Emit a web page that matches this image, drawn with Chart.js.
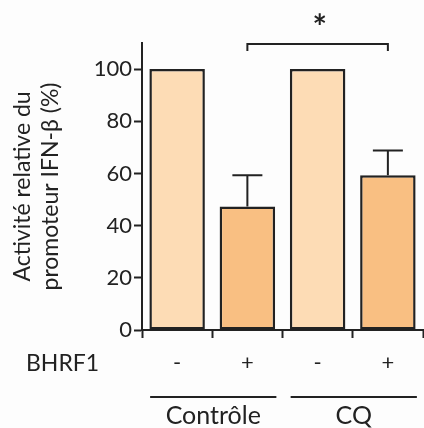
<!DOCTYPE html>
<html>
<head>
<meta charset="utf-8">
<script src="https://cdn.jsdelivr.net/npm/chart.js@4"></script>
<style>
  html, body { margin: 0; padding: 0; background: #fdfdfd; }
  #wrap { width: 424px; height: 428px; position: relative; }
</style>
</head>
<body>
<div id="wrap"><canvas id="activityChart"></canvas></div>
<script>
// values
var bhrf1Labels = ['-', '+', '-', '+'];
var activityMeans = [100, 47.3, 100, 59.3];
var errorTops = [null, 59.3, null, 68.8];
var groupNames = ['Contrôle', 'CQ'];
var barColors = ['#fddcb5', '#f9bf82', '#fddcb5', '#f9bf82'];
var yTicks = [0, 20, 40, 60, 80, 100];

var ink = '#222222';
var fontFamily = 'Lato, "Open Sans", sans-serif';

// error bars, bracket with star, BHRF1 row and group underlines
var annotations = {
    id: 'annotations',
    afterDatasetsDraw: function (chart) {
        var ctx = chart.ctx;
        var x = chart.scales.x;
        var y = chart.scales.y;
        ctx.save();
        ctx.strokeStyle = ink;
        ctx.lineWidth = 2;

        errorTops.forEach(function (top, i) {
            if (top === null) return;
            var cx = x.getPixelForValue(i);
            var y0 = y.getPixelForValue(activityMeans[i]);
            var y1 = y.getPixelForValue(top);
            ctx.beginPath();
            ctx.moveTo(cx, y0);
            ctx.lineTo(cx, y1);
            ctx.moveTo(cx - 15, y1);
            ctx.lineTo(cx + 15, y1);
            ctx.stroke();
        });

        // significance bracket between the two "+" bars
        var bx1 = x.getPixelForValue(1);
        var bx2 = x.getPixelForValue(3);
        var by = y.getPixelForValue(110) + 1;
        ctx.beginPath();
        ctx.moveTo(bx1, by + 7);
        ctx.lineTo(bx1, by);
        ctx.lineTo(bx2, by);
        ctx.lineTo(bx2, by + 7);
        ctx.stroke();

        ctx.fillStyle = ink;
        ctx.font = 'bold 34px ' + fontFamily;
        ctx.textAlign = 'center';
        ctx.textBaseline = 'middle';
        ctx.fillText('*', (bx1 + bx2) / 2 + 2, 28);

        // row label
        ctx.font = '23px ' + fontFamily;
        ctx.fillStyle = '#222';
        ctx.textAlign = 'left';
        ctx.fillText('BHRF1', 26, 364);

        // group underlines and names
        ctx.font = '25px ' + fontFamily;
        groupNames.forEach(function (name, g) {
            var left = x.getPixelForValue(g * 2) - 27;
            var right = x.getPixelForValue(g * 2 + 1) + 29;
            ctx.beginPath();
            ctx.moveTo(left, 397);
            ctx.lineTo(right, 397);
            ctx.stroke();
            ctx.textAlign = 'center';
            ctx.fillText(name, (left + right) / 2, 416);
        });
        ctx.restore();
    }
};

new Chart(document.getElementById('activityChart'), {
    type: 'bar',
    data: {
        labels: bhrf1Labels,
        datasets: [{
            data: activityMeans,
            backgroundColor: barColors,
            borderColor: ink,
            borderWidth: 2.5,
            borderSkipped: false,
            barPercentage: 0.79,
            categoryPercentage: 1
        }]
    },
    options: {
        responsive: true,
        maintainAspectRatio: false,
        animation: false,
        layout: { padding: { top: 43, right: 1 } },
        plugins: {
            legend: { display: false },
            tooltip: { enabled: false }
        },
        scales: {
            x: {
                grid: { display: true, drawOnChartArea: false, tickLength: 8, tickColor: ink, tickWidth: 2 },
                border: { color: ink, width: 2 },
                ticks: { color: '#222', padding: 12, font: { family: fontFamily, size: 22 } },
                afterFit: function (scale) { scale.height = 98; }
            },
            y: {
                min: 0,
                max: 110,
                afterBuildTicks: function (scale) {
                    scale.ticks = yTicks.map(function (v) { return { value: v }; });
                },
                grid: { display: true, drawOnChartArea: false, tickLength: 8, tickColor: ink, tickWidth: 2 },
                border: { color: ink, width: 2 },
                ticks: { color: '#222', padding: 2, font: { family: fontFamily, size: 22 } },
                title: {
                    display: true,
                    text: ['Activité relative du', 'promoteur IFN-β (%)'],
                    color: '#222',
                    font: { family: fontFamily, size: 23, lineHeight: 1.2 },
                    padding: { top: 9, bottom: 0 }
                },
                afterFit: function (scale) { scale.width = 142; }
            }
        }
    },
    plugins: [annotations]
});
</script>
</body>
</html>
